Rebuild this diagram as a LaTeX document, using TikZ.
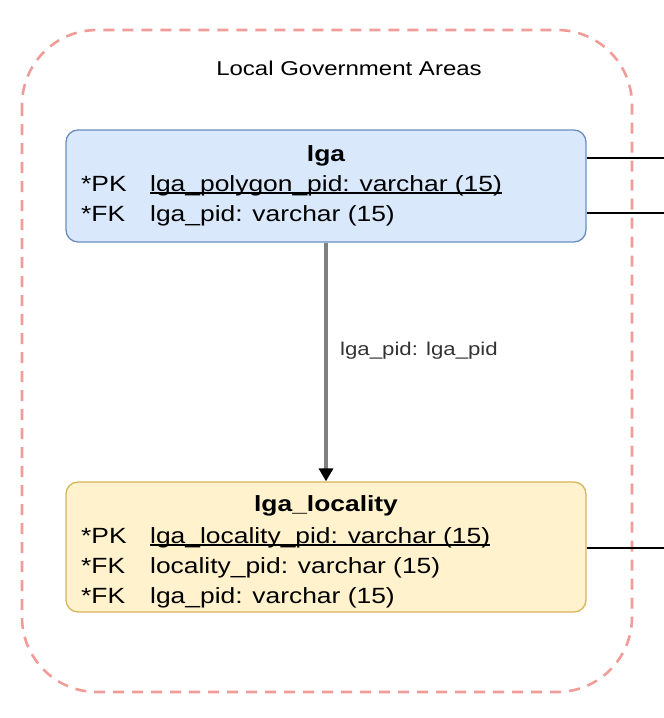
\documentclass[tikz,border=0pt]{standalone}
\usepackage{fontspec}
\setmainfont{Liberation Sans}[FakeStretch=1.2]
\usetikzlibrary{arrows.meta}
\definecolor{blfill}{HTML}{DAE8FC}
\definecolor{bldraw}{HTML}{6C8EBF}
\definecolor{ylfill}{HTML}{FFF2CC}
\definecolor{yldraw}{HTML}{D6B656}
\definecolor{grpred}{HTML}{F19C99}
\definecolor{lblgray}{HTML}{333333}
\begin{document}
\begin{tikzpicture}[x=1bp,y=-1bp,
  tbox/.style={draw, line width=1.3bp, rounded corners=12bp, inner sep=0pt, minimum width=520bp},
  ftxt/.style={anchor=base west, inner sep=0pt, font=\fontsize{22bp}{26bp}\selectfont},
  ttl/.style={anchor=base, inner sep=0pt, font=\fontsize{22bp}{26bp}\selectfont\bfseries},
  rel/.style={line width=2bp, black}
]
\useasboundingbox (0,0) rectangle (664,718);
% group container
\draw[grpred, line width=2.6bp, dash pattern=on 11bp off 8bp, rounded corners=75bp] (22,30) rectangle (632,692);
\node[inner sep=0pt, font=\fontsize{20bp}{24bp}\selectfont] (grp) at (349,68) {Local Government Areas};
% lga table
\node[tbox, fill=blfill, draw=bldraw, minimum height=112bp] (lga) at (326,186) {};
\node[ttl] (lgat) at (326,161) {lga};
\node[ftxt] (lgak1) at (81,191) {*PK};
\node[ftxt] (lgaf1) at (150,191) {lga\_polygon\_pid: varchar (15)};
\node[ftxt] (lgak2) at (81,221) {*FK};
\node[ftxt] (lgaf2) at (150,221) {lga\_pid: varchar (15)};
\draw[line width=1.2bp] ([yshift=-2bp]lgaf1.base west) -- ([yshift=-2bp]lgaf1.base east);
% lga_locality table
\node[tbox, fill=ylfill, draw=yldraw, minimum height=130bp] (loc) at (326,547) {};
\node[ttl] (loct) at (326,511) {lga\_locality};
\node[ftxt] (lock1) at (81,543) {*PK};
\node[ftxt] (locf1) at (150,543) {lga\_locality\_pid: varchar (15)};
\node[ftxt] (lock2) at (81,573) {*FK};
\node[ftxt] (locf2) at (150,573) {locality\_pid: varchar (15)};
\node[ftxt] (lock3) at (81,603) {*FK};
\node[ftxt] (locf3) at (150,603) {lga\_pid: varchar (15)};
\draw[line width=1.2bp] ([yshift=-2bp]locf1.base west) -- ([yshift=-2bp]locf1.base east);
% outgoing relations
\coordinate (r1) at (664,158);
\coordinate (r2) at (664,213);
\coordinate (r3) at (664,548);
\draw[rel] (lga.east |- r1) -- (r1);
\draw[rel] (lga.east |- r2) -- (r2);
\draw[rel] (loc.east |- r3) -- (r3);
% internal relation
\draw[gray, line width=3.2bp, -{Triangle[width=14bp,length=13bp,color=black]}] (lga.south) -- (loc.north);
\node[anchor=west, inner sep=0pt, text=lblgray, font=\fontsize{18.5bp}{22bp}\selectfont] (lbl) at (340,351) {lga\_pid: lga\_pid};
\end{tikzpicture}
\end{document}
